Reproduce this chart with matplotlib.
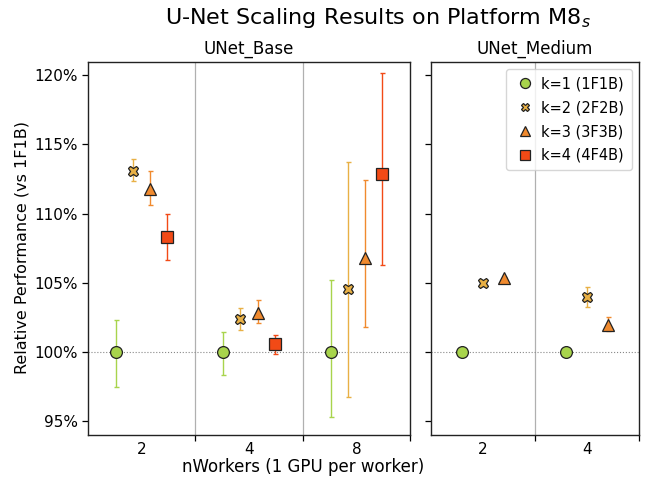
import matplotlib
matplotlib.use("Agg")
import matplotlib.pyplot as plt
import numpy as np

# ---- data ----
series_labels = ["k=1 (1F1B)", "k=2 (2F2B)", "k=3 (3F3B)", "k=4 (4F4B)"]
series_colors = ["#a8d44c", "#e8b045", "#f08a2e", "#f24a16"]
series_markers = ["o", "X", "^", "s"]

base_groups = ["2", "4", "8"]
base_vals = [
    [100.0, 100.0, 100.0],
    [113.06, 102.38, 104.57],
    [111.78, 102.84, 106.76],
    [108.30, 100.56, 112.89],
]
base_err_lo = [
    [2.55, 1.63, 4.69],
    [0.74, 0.79, 7.82],
    [1.17, 0.77, 4.98],
    [1.66, 0.68, 6.63],
]
base_err_hi = [
    [2.31, 1.47, 5.20],
    [0.86, 0.77, 9.19],
    [1.26, 0.91, 5.65],
    [1.66, 0.67, 7.29],
]

med_groups = ["2", "4"]
med_vals = [
    [100.0, 100.0],
    [104.98, 104.00],
    [105.32, 101.98],
]
med_err_lo = [
    [0.0, 0.0],
    [0.15, 0.75],
    [0.10, 0.46],
]
med_err_hi = [
    [0.0, 0.0],
    [0.15, 0.72],
    [0.10, 0.55],
]

yticks = [95, 100, 105, 110, 115, 120]

plt.rcParams["font.family"] = ["DejaVu Sans"]

fig = plt.figure(figsize=(6.46, 4.84), dpi=100)
W, H = 646, 484
bottom = (H - 435) / H
height = (435 - 62) / H
ax1 = fig.add_axes([88 / W, bottom, (410 - 88) / W, height])
ax2 = fig.add_axes([431 / W, bottom, (639 - 431) / W, height])

msizes = {"o": 8.5, "X": 7.5, "^": 8.5, "s": 9}


def draw(ax, groups, vals, lo, hi, step):
    n = len(vals)
    centers = np.arange(len(groups)) + 0.5
    for i in range(n):
        off = (i - (n - 1) / 2) * step
        x = centers + off
        ax.errorbar(x, vals[i], yerr=[lo[i], hi[i]], fmt="none",
                    ecolor=series_colors[i], elinewidth=1.0, capsize=1.8,
                    capthick=1.0, zorder=3)
        ax.plot(x, vals[i], linestyle="none", marker=series_markers[i],
                markersize=msizes[series_markers[i]],
                markerfacecolor=series_colors[i],
                markeredgecolor="#222222", markeredgewidth=0.9, zorder=4)
    ax.set_xlim(0, len(groups))
    ax.set_xticks(np.arange(1, len(groups) + 1))
    ax.set_xticklabels([])
    ax.set_xticks(centers, minor=True)
    ax.set_xticklabels(groups, minor=True, fontsize=11)
    ax.tick_params(axis="x", which="minor", length=0, pad=5)
    ax.tick_params(axis="x", which="major", length=4, width=0.9)
    for b in range(1, len(groups)):
        ax.axvline(b, color="#b0b0b0", linewidth=0.9, zorder=1)
    ax.axhline(100, color="#888888", linestyle=":", linewidth=0.8, zorder=2)
    ax.set_ylim(94.0, 120.95)
    ax.set_yticks(yticks)
    ax.tick_params(axis="y", length=4, width=0.9)
    for s in ax.spines.values():
        s.set_linewidth(1.0)
        s.set_color("#222222")


draw(ax1, base_groups, base_vals, base_err_lo, base_err_hi, 0.16)
draw(ax2, med_groups, med_vals, med_err_lo, med_err_hi, 0.20)

ax1.set_yticklabels([f"{t}%" for t in yticks], fontsize=11)
ax2.set_yticklabels([])

ax1.set_title("UNet_Base", fontsize=12, pad=6)
ax2.set_title("UNet_Medium", fontsize=12, pad=6)

handles = []
for i in range(4):
    h, = ax2.plot([], [], linestyle="none", marker=series_markers[i],
                  markersize=msizes[series_markers[i]] * 0.85,
                  markerfacecolor=series_colors[i],
                  markeredgecolor="#222222", markeredgewidth=0.9)
    handles.append(h)
ax2.legend(handles, series_labels, loc="upper right", fontsize=10.5,
           frameon=True, handletextpad=0.4, borderpad=0.5,
           labelspacing=0.6, handlelength=1.5)

fig.text(303 / W, 1 - 467 / H, "nWorkers (1 GPU per worker)", ha="center",
         va="center", fontsize=12)
fig.text(22 / W, 1 - 248 / H, "Relative Performance (vs 1F1B)", ha="center",
         va="center", rotation=90, fontsize=11.5)
fig.text(378 / W, 1 - 18 / H, "U-Net Scaling Results on Platform M8$_s$",
         ha="center", va="center", fontsize=16)

fig.savefig("out.png", dpi=100)
